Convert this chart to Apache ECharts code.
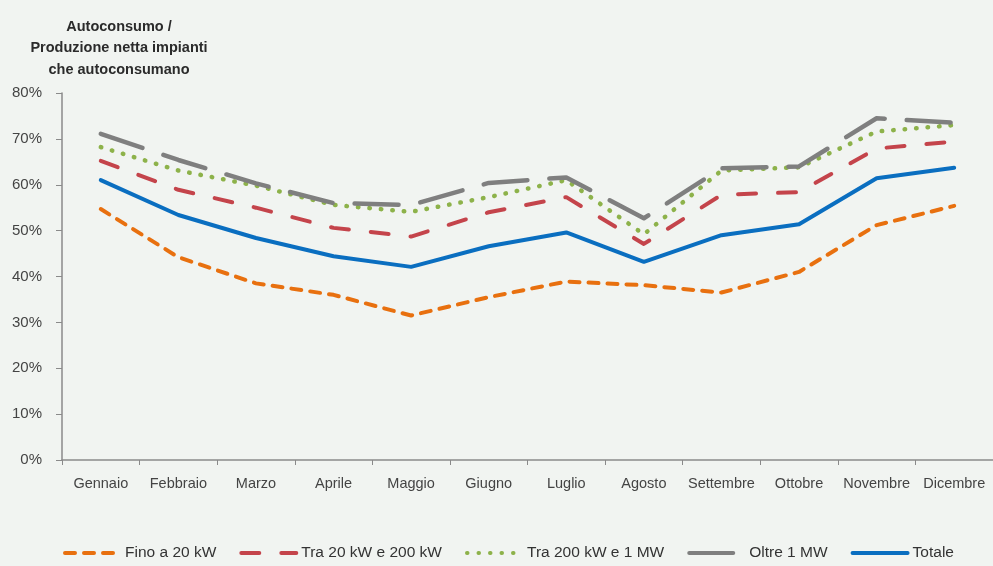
<!DOCTYPE html>
<html>
<head>
<meta charset="utf-8">
<script src="https://cdn.jsdelivr.net/npm/echarts@6/dist/echarts.min.js"></script>
<style>
  html, body { margin: 0; padding: 0; background: #f1f4f1; }
  #chart { width: 993px; height: 566px; }
</style>
</head>
<body>
<div id="chart"></div>
<script>
// Monthly ratio of self-consumption to net production, by plant size class (%)
const months = ['Gennaio', 'Febbraio', 'Marzo', 'Aprile', 'Maggio', 'Giugno',
                'Luglio', 'Agosto', 'Settembre', 'Ottobre', 'Novembre', 'Dicembre'];
const fino20kW   = [54.7, 44.2, 38.5, 36.0, 31.5, 35.5, 38.9, 38.1, 36.5, 41.0, 51.2, 55.4];
const tra20e200  = [65.2, 58.9, 55.0, 50.6, 48.7, 54.0, 57.3, 47.1, 57.8, 58.4, 67.9, 69.4];
const tra200e1MW = [68.2, 63.1, 59.8, 55.6, 54.1, 57.3, 61.0, 49.2, 63.1, 63.8, 71.6, 73.0];
const oltre1MW   = [71.1, 65.4, 60.3, 56.0, 55.6, 60.4, 61.6, 52.7, 63.6, 64.0, 74.5, 73.5];
const totale     = [61.0, 53.4, 48.4, 44.4, 42.1, 46.6, 49.6, 43.2, 49.0, 51.4, 61.4, 63.7];
const yTicks = [0, 10, 20, 30, 40, 50, 60, 70, 80];

const font = '"Liberation Sans", Arial, sans-serif';
const axisGray = '#8a8a8a';

function lineSeries(name, data, color, dash, width) {
  return {
    name: name,
    type: 'line',
    data: data,
    symbol: 'none',
    smooth: false,
    lineStyle: { color: color, width: width, type: dash, cap: 'round', join: 'round' },
    itemStyle: { color: color }
  };
}

const chart = echarts.init(document.getElementById('chart'));
chart.setOption({
  backgroundColor: '#f1f4f1',
  animation: false,
  textStyle: { fontFamily: font },
  title: {
    text: 'Autoconsumo /\nProduzione netta impianti\nche autoconsumano',
    left: 114,
    top: 11,
    textAlign: 'center',
    textStyle: { fontSize: 14.5, fontWeight: 'bold', color: '#2b2b2b', lineHeight: 21.5, fontFamily: font }
  },
  grid: { left: 62, top: 93, width: 936, height: 367, containLabel: false },
  xAxis: {
    type: 'category',
    data: months,
    boundaryGap: true,
    axisLine: { lineStyle: { color: axisGray, width: 1.5 } },
    axisTick: { show: true, length: 5, alignWithLabel: false, lineStyle: { color: axisGray } },
    axisLabel: { color: '#444', fontSize: 14.5, margin: 16, interval: 0, fontFamily: font },
    splitLine: { show: false }
  },
  yAxis: {
    type: 'value',
    min: yTicks[0],
    max: yTicks[yTicks.length - 1],
    interval: 10,
    axisLine: { show: true, lineStyle: { color: axisGray, width: 1.5 } },
    axisTick: { show: true, length: 6, lineStyle: { color: axisGray } },
    axisLabel: { color: '#444', fontSize: 15, margin: 20, formatter: '{value}%', fontFamily: font },
    splitLine: { show: false }
  },
  legend: {
    bottom: 0,
    left: 58,
    itemWidth: 55,
    itemHeight: 14,
    itemGap: 23,
    itemStyle: { opacity: 0 },
    lineStyle: { width: 4 },
    textStyle: { color: '#333', fontSize: 15.5, fontFamily: font },
    data: ['Fino a 20 kW', 'Tra 20 kW e 200 kW', 'Tra 200 kW e 1 MW', 'Oltre 1 MW', 'Totale']
  },
  series: [
    lineSeries('Fino a 20 kW', fino20kW, '#e8700f', [10, 9], 4),
    lineSeries('Tra 20 kW e 200 kW', tra20e200, '#c4444b', [18, 22], 4),
    lineSeries('Tra 200 kW e 1 MW', tra200e1MW, '#8db24a', [0.5, 11], 4.5),
    lineSeries('Oltre 1 MW', oltre1MW, '#7f7f7f', [44, 22], 4.5),
    lineSeries('Totale', totale, '#0a6ec0', 'solid', 4)
  ]
});
</script>
</body>
</html>
